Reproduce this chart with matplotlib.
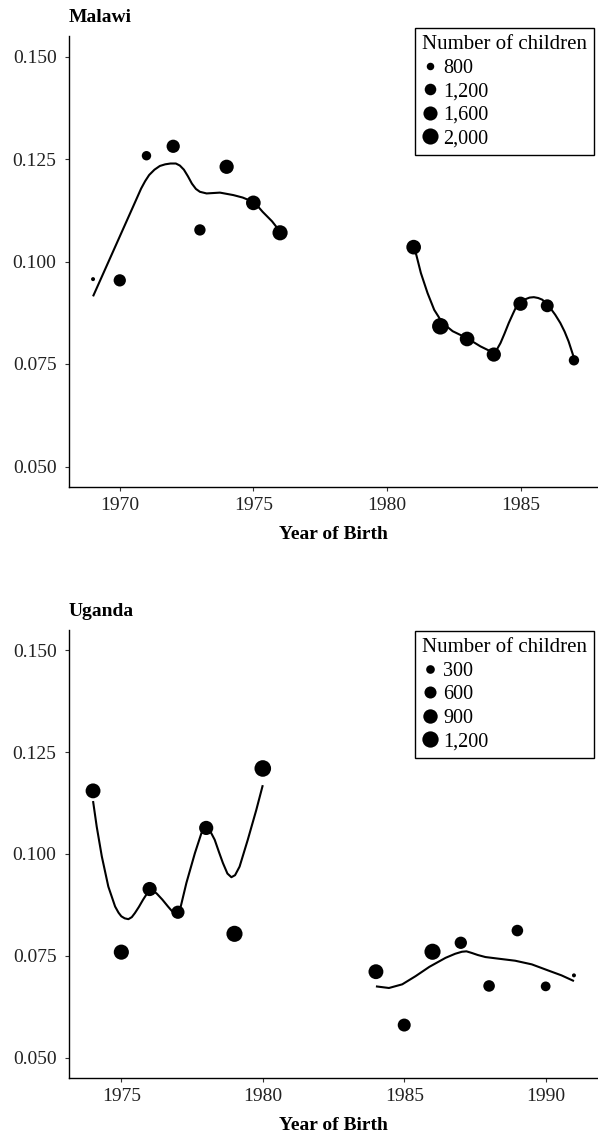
import numpy as np
import matplotlib
matplotlib.use("Agg")
import matplotlib.pyplot as plt
from matplotlib.lines import Line2D

plt.rcParams['font.family'] = ['Liberation Serif', 'DejaVu Serif']

# Malawi
mw_years = [1969, 1970, 1971, 1972, 1973, 1974, 1975, 1976,
            1981, 1982, 1983, 1984, 1985, 1986, 1987]
mw_rate = [0.0957, 0.0954, 0.1258, 0.1281, 0.1077, 0.1231, 0.1143, 0.1070,
           0.1035, 0.0842, 0.0811, 0.0773, 0.0897, 0.0892, 0.0759]
mw_n = [690, 1300, 950, 1450, 1170, 1620, 1700, 1800,
        1700, 2100, 1700, 1620, 1620, 1400, 1050]
mw_legend = [800, 1200, 1600, 2000]

# smoothed curves
mw_fit1_x = [1969.0, 1969.5, 1970.0, 1970.5, 1970.8, 1970.95, 1971.1, 1971.3, 1971.5,
             1971.7, 1971.9, 1972.1, 1972.25, 1972.4, 1972.55, 1972.7, 1972.85, 1973.0,
             1973.25, 1973.75, 1974.25, 1974.6, 1974.9, 1975.15, 1975.35, 1975.7, 1976.0]
mw_fit1_y = [0.0915, 0.0988, 0.1061, 0.1134, 0.1178, 0.1196, 0.1211, 0.1224, 0.1233,
             0.1237, 0.1239, 0.1239, 0.1234, 0.1224, 0.1208, 0.1190, 0.1177, 0.1170,
             0.1166, 0.1168, 0.1162, 0.1156, 0.1148, 0.1136, 0.1121, 0.1098, 0.1073]
mw_fit2_x = [1981.0, 1981.1, 1981.27, 1981.52, 1981.77, 1982.08, 1982.46, 1983.0, 1983.5,
             1984.0, 1984.12, 1984.25, 1984.4, 1984.56, 1984.72, 1984.87, 1985.02,
             1985.18, 1985.34, 1985.5, 1985.66, 1985.81, 1985.97, 1986.12, 1986.3,
             1986.49, 1986.65, 1986.8, 1987.0]
mw_fit2_y = [0.1035, 0.1016, 0.0972, 0.0923, 0.0882, 0.0850, 0.0830, 0.0813, 0.0793,
             0.0777, 0.0786, 0.0801, 0.0824, 0.0850, 0.0873, 0.0894, 0.0903,
             0.0908, 0.0912, 0.0913, 0.0911, 0.0907, 0.0898, 0.0886, 0.0870,
             0.0850, 0.0829, 0.0805, 0.0765]

# Uganda
ug_years = [1974, 1975, 1976, 1977, 1978, 1979, 1980,
            1984, 1985, 1986, 1987, 1988, 1989, 1990, 1991]
ug_rate = [0.1155, 0.0759, 0.0914, 0.0857, 0.1064, 0.0804, 0.1210,
           0.0711, 0.0580, 0.0760, 0.0782, 0.0676, 0.0812, 0.0675, 0.0702]
ug_n = [970, 1010, 870, 740, 870, 1170, 1250,
        970, 710, 1170, 630, 550, 550, 380, 150]
ug_legend = [300, 600, 900, 1200]

ug_fit1_x = [1974.0, 1974.13, 1974.31, 1974.54, 1974.78, 1974.9, 1975.0, 1975.12, 1975.25,
             1975.37, 1975.48, 1975.62, 1975.77, 1975.9, 1976.03, 1976.25, 1976.45, 1976.65,
             1976.8, 1976.95, 1977.1, 1977.3, 1977.6, 1977.83, 1977.93, 1978.03, 1978.15,
             1978.3, 1978.45, 1978.59, 1978.75, 1978.89, 1979.02, 1979.18, 1979.47,
             1979.77, 1980.0]
ug_fit1_y = [0.1130, 0.1067, 0.0994, 0.0920, 0.0871, 0.0856, 0.0847, 0.0842, 0.0840,
             0.0845, 0.0855, 0.0870, 0.0888, 0.0902, 0.0914, 0.0903, 0.0888, 0.0871,
             0.0859, 0.0855, 0.0871, 0.0929, 0.1002, 0.1051, 0.1060, 0.1063, 0.1055,
             0.1035, 0.1005, 0.0978, 0.0952, 0.0943, 0.0948, 0.0969, 0.1035,
             0.1108, 0.1169]
ug_fit2_x = [1984.0, 1984.46, 1984.93, 1985.4, 1985.89, 1986.46, 1986.8, 1987.04, 1987.2,
             1987.39, 1987.6, 1987.87, 1988.33, 1988.92, 1989.51, 1990.09, 1990.56, 1991.0]
ug_fit2_y = [0.0675, 0.0671, 0.0680, 0.0700, 0.0723, 0.0745, 0.0755, 0.0760, 0.0761,
             0.0757, 0.0752, 0.0747, 0.0743, 0.0738, 0.0729, 0.0714, 0.0702, 0.0688]

yticks = [0.050, 0.075, 0.100, 0.125, 0.150]

W, H = 598, 1136
fig = plt.figure(figsize=(W / 100, H / 100), dpi=100)

def diam(n, nmin, nmax):
    # area scale like ggplot's scale_size, diameter in points
    frac = np.clip((np.asarray(n, float) - nmin) / (nmax - nmin), 0, 1)
    return (4.0 + 12.6 * np.sqrt(frac)) * 0.72

def panel(rect, title, years, rate, n, fits, leg_vals, xticks, leg_top):
    ax = fig.add_axes(rect)
    nmin, nmax = min(n), max(n)
    for fx, fy in fits:
        ax.plot(fx, fy, color='black', lw=1.5, zorder=2,
                solid_joinstyle='round', solid_capstyle='butt')
    ax.scatter(years, rate, s=diam(n, nmin, nmax) ** 2, color='black',
               linewidths=0, zorder=3)
    pad = (max(years) - min(years)) * 0.05
    ax.set_xlim(min(years) - pad, max(years) + pad)
    ax.set_ylim(0.045, 0.155)
    ax.set_xticks(xticks)
    ax.set_yticks(yticks)
    ax.set_yticklabels(['%.3f' % v for v in yticks])
    for s in ['top', 'right']:
        ax.spines[s].set_visible(False)
    for s in ['left', 'bottom']:
        ax.spines[s].set_linewidth(1.0)
    ax.tick_params(labelsize=14, length=3, width=0.8, colors='#333333',
                   labelcolor='#222222')
    ax.tick_params(axis='y', pad=6)
    ax.tick_params(axis='x', pad=4)
    ax.set_xlabel('Year of Birth', fontsize=14, fontweight='bold', labelpad=9)
    ax.set_title(title, loc='left', fontsize=14, fontweight='bold', pad=10)

    handles = [Line2D([], [], ls='none', marker='o', color='black',
                      markersize=float(diam(v, nmin, nmax)), markeredgewidth=0)
               for v in leg_vals]
    labels = ['{:,}'.format(v) for v in leg_vals]
    leg = ax.legend(handles, labels, title='Number of children',
                    loc='upper left', bbox_to_anchor=(415 / W, 1 - leg_top / H),
                    bbox_transform=fig.transFigure, borderaxespad=0,
                    fontsize=14.5, title_fontsize=15, frameon=True,
                    fancybox=False, framealpha=1, edgecolor='black',
                    handlelength=0.8, handletextpad=0.25, labelspacing=0.22,
                    borderpad=0.35, alignment='left')
    leg.get_frame().set_linewidth(1.0)
    return ax

left = 69 / W
width = 1 - left
panel([left, 1 - 487 / H, width, (487 - 36) / H], 'Malawi',
      mw_years, mw_rate, mw_n,
      [(mw_fit1_x, mw_fit1_y), (mw_fit2_x, mw_fit2_y)],
      mw_legend, [1970, 1975, 1980, 1985], 28)
panel([left, 1 - 1078 / H, width, (1078 - 630) / H], 'Uganda',
      ug_years, ug_rate, ug_n,
      [(ug_fit1_x, ug_fit1_y), (ug_fit2_x, ug_fit2_y)],
      ug_legend, [1975, 1980, 1985, 1990], 631)

fig.savefig('out.png', dpi=100)
